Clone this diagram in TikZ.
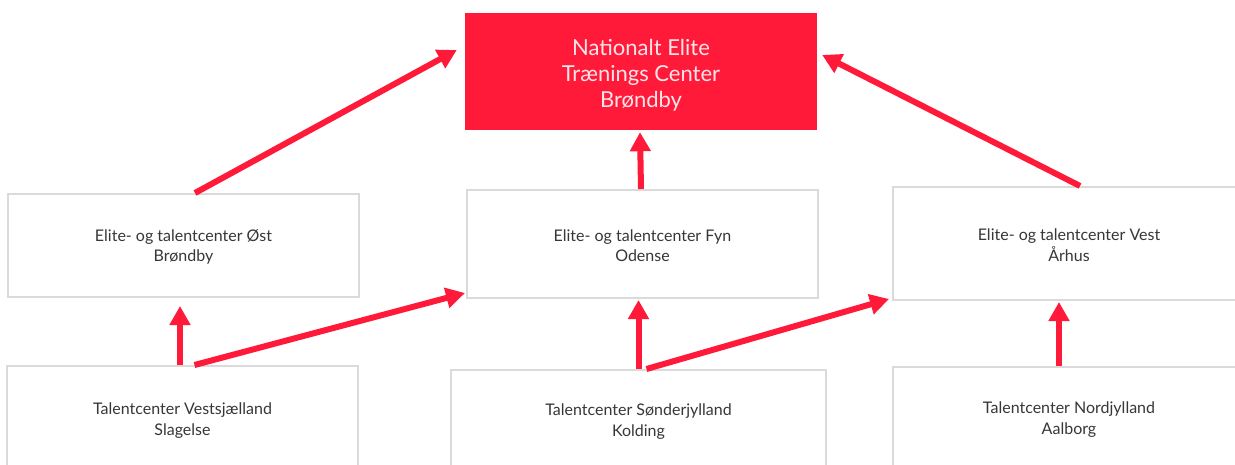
\documentclass[tikz,border=0pt]{standalone}
\usepackage{fontspec}
\setmainfont{Lato}
\usetikzlibrary{arrows.meta,calc}
\definecolor{brandred}{RGB}{255,26,58}
\definecolor{boxgray}{RGB}{218,218,218}
\definecolor{txtgray}{RGB}{55,55,55}
\definecolor{toptxt}{RGB}{255,228,233}
\tikzset{
  unitbox/.style={draw=boxgray, line width=2pt, fill=white, inner sep=0pt, align=center,
    text=txtgray, font=\fontsize{16}{20.5}\selectfont},
  topbox/.style={fill=brandred, inner sep=0pt, align=center, text=toptxt,
    font=\fontsize{22}{26}\selectfont},
  link/.style={draw=brandred, line width=6pt, -{Triangle[width=20pt,length=19pt]}}
}
\begin{document}
\begin{tikzpicture}[x=1pt,y=-1pt]
\useasboundingbox (0,0) rectangle (1235,465);
\clip (0,0) rectangle (1235,465);
\node[topbox, minimum width=352pt, minimum height=117pt] (top) at (641,71.5) {\rule{0pt}{24pt}Nationalt Elite\\Trænings Center\\Brøndby};
\node[unitbox, minimum width=351pt, minimum height=103pt] (ost) at (183.5,245.5) {\rule{0pt}{15pt}Elite- og talentcenter Øst\\Brøndby};
\node[unitbox, minimum width=351pt, minimum height=108pt] (fyn) at (642.5,244) {\rule{0pt}{15pt}Elite- og talentcenter Fyn\\Odense};
\node[unitbox, minimum width=352pt, minimum height=113pt] (vest) at (1069,243.5) {\rule{0pt}{15pt}Elite- og talentcenter Vest\\Århus};
\node[unitbox, minimum width=351pt, minimum height=106pt] (vsj) at (182.5,419) {\rule{0pt}{15pt}Talentcenter Vestsjælland\\Slagelse};
\node[unitbox, minimum width=375pt, minimum height=100pt] (snd) at (638.5,420) {\rule{0pt}{15pt}Talentcenter Sønderjylland\\Kolding};
\node[unitbox, minimum width=352pt, minimum height=102pt] (nord) at (1069,418) {\rule{0pt}{15pt}Talentcenter Nordjylland\\Aalborg};
\draw[link] ($(ost.north)+(11.5,0)$) -- ($(top.west)+(-8,-21.5)$);
\draw[link] ($(fyn.north)+(-1.5,0)$) -- ($(top.south)+(-1,2)$);
\draw[link] ($(vest.north)+(11,0)$) -- ($(top.east)+(5,-16.5)$);
\draw[link] ($(vsj.north)+(-2.5,0)$) -- ($(ost.south)+(-3.5,8)$);
\draw[link] ($(vsj.north)+(12,0)$) -- ($(fyn.south west)+(-1,-6)$);
\draw[link] ($(snd.north)+(0,0)$) -- ($(fyn.south)+(-4,1)$);
\draw[link] ($(snd.north)+(8,0)$) -- ($(vest.south west)+(-3,-2)$);
\draw[link] ($(nord.north)+(-10,0)$) -- ($(vest.south)+(-10,1)$);
\end{tikzpicture}
\end{document}
